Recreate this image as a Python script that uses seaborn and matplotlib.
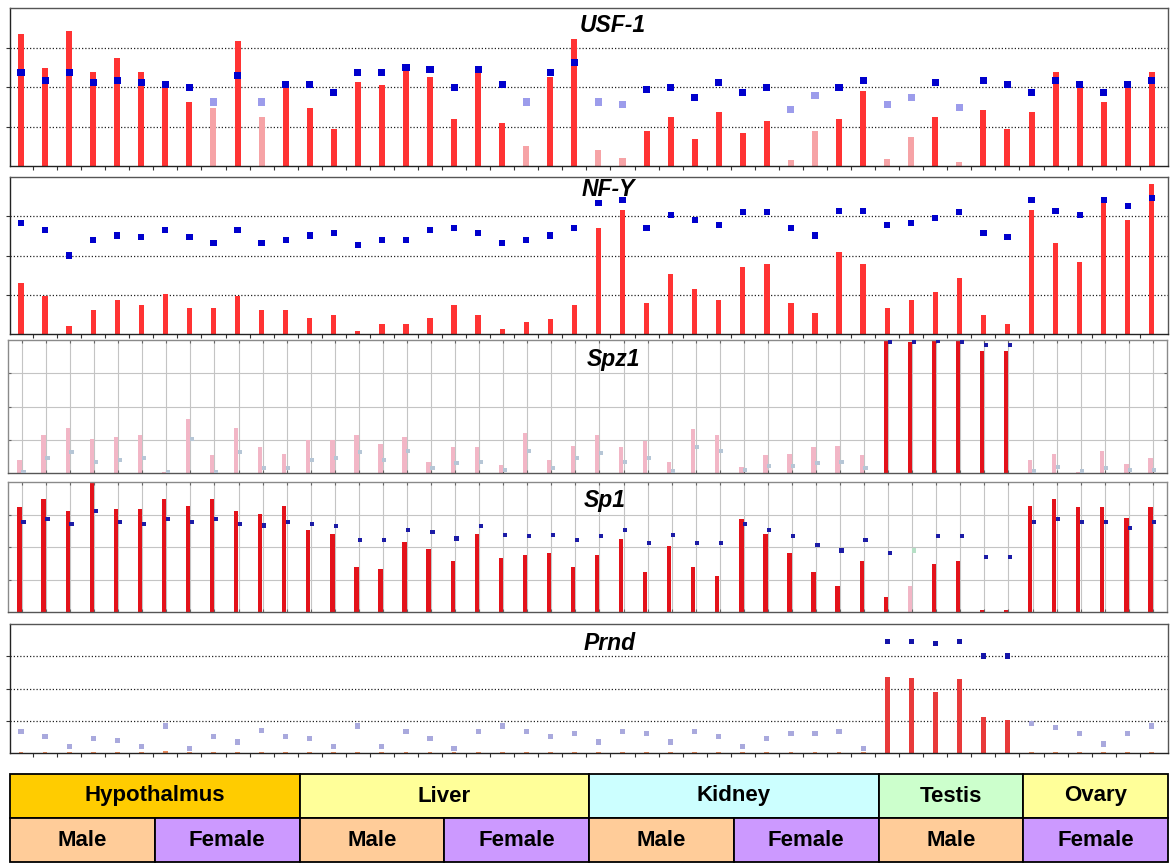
import matplotlib
matplotlib.use("Agg")
import matplotlib.pyplot as plt
from matplotlib.patches import Rectangle
import numpy as np
import pandas as pd
import seaborn as sns

# ---- sample layout: 48 samples grouped by tissue and sex ----
tissue_names = ["Hypothalmus", "Liver", "Kidney", "Testis", "Ovary"]
tissue_counts = [12, 12, 12, 6, 6]
tissue_colors = ["#ffcc00", "#ffff99", "#ccffff", "#ccffcc", "#ffff99"]
sex_names = ["Male", "Female", "Male", "Female", "Male", "Female", "Male", "Female"]
sex_counts = [6, 6, 6, 6, 6, 6, 6, 6]
sex_colors = {"Male": "#ffcc99", "Female": "#cc99ff"}

# ---- per-gene expression (bars), detection signal (squares), call P/A ----
usf1_expr = [3.34, 2.47, 3.42, 2.37, 2.73, 2.37, 2.04, 1.63, 1.46, 3.17, 1.25, 1.97,
             1.47, 0.94, 2.12, 2.04, 2.44, 2.26, 1.20, 2.52, 1.10, 0.50, 2.26, 3.22,
             0.40, 0.19, 0.88, 1.25, 0.68, 1.37, 0.84, 1.15, 0.14, 0.88, 1.20, 1.90,
             0.18, 0.73, 1.25, 0.09, 1.42, 0.93, 1.37, 2.37, 1.97, 1.63, 1.97, 2.37]
usf1_signal = [2.37, 2.17, 2.37, 2.12, 2.17, 2.12, 2.06, 1.98, 1.62, 2.30, 1.62, 2.06,
               2.06, 1.87, 2.37, 2.37, 2.49, 2.44, 1.98, 2.44, 2.06, 1.62, 2.37, 2.61,
               1.62, 1.55, 1.93, 1.98, 1.74, 2.12, 1.87, 1.98, 1.43, 1.79, 1.98, 2.17,
               1.55, 1.74, 2.12, 1.48, 2.17, 2.06, 1.87, 2.17, 2.06, 1.87, 2.06, 2.17]
usf1_call = "PPPPPP" "PPAPAP" "PPPPPP" "PPPAPP" "AAPPPP" "PPAAPP" "AAPAPP" "PPPPPP"

nfy_expr = [1.30, 0.96, 0.20, 0.62, 0.86, 0.74, 1.03, 0.67, 0.67, 0.96, 0.62, 0.62,
            0.42, 0.49, 0.08, 0.25, 0.25, 0.42, 0.74, 0.49, 0.13, 0.30, 0.37, 0.74,
            2.69, 3.15, 0.79, 1.54, 1.15, 0.86, 1.71, 1.79, 0.79, 0.54, 2.08, 1.79,
            0.67, 0.86, 1.08, 1.42, 0.49, 0.25, 3.15, 2.32, 1.83, 3.37, 2.91, 3.81]
nfy_signal = [2.83, 2.64, 2.00, 2.39, 2.51, 2.47, 2.64, 2.47, 2.32, 2.64, 2.32, 2.39,
              2.51, 2.58, 2.26, 2.39, 2.39, 2.64, 2.70, 2.58, 2.32, 2.39, 2.51, 2.70,
              3.34, 3.42, 2.70, 3.03, 2.91, 2.78, 3.10, 3.10, 2.70, 2.51, 3.14, 3.14,
              2.78, 2.83, 2.95, 3.10, 2.58, 2.47, 3.42, 3.14, 3.03, 3.42, 3.27, 3.47]
nfy_call = "PPPPPP" "PPPPPP" "PPPPPP" "PPPPPP" "PPPPPP" "PPPPPP" "PPPPPP" "PPPPPP"

spz1_expr = [0.39, 1.15, 1.35, 1.03, 1.07, 1.15, 0.02, 1.61, 0.53, 1.35, 0.78, 0.58,
             0.98, 0.98, 1.15, 0.88, 1.07, 0.32, 0.78, 0.78, 0.25, 1.20, 0.39, 0.80,
             1.15, 0.78, 0.97, 0.32, 1.33, 1.15, 0.19, 0.53, 0.58, 0.78, 0.80, 0.53,
             4.00, 3.93, 4.00, 4.00, 3.68, 3.68, 0.39, 0.58, 0.02, 0.65, 0.27, 0.44]
spz1_signal = [0.04, 0.46, 0.62, 0.33, 0.39, 0.46, 0.03, 1.03, 0.03, 0.62, 0.16, 0.14,
               0.39, 0.46, 0.62, 0.39, 0.67, 0.14, 0.30, 0.33, 0.09, 0.65, 0.16, 0.46,
               0.60, 0.33, 0.46, 0.06, 0.78, 0.65, 0.10, 0.22, 0.22, 0.29, 0.33, 0.14,
               3.93, 3.94, 3.98, 3.94, 3.85, 3.85, 0.06, 0.19, 0.06, 0.16, 0.09, 0.09]
spz1_call = "AAAAAA" "AAAAAA" "AAAAAA" "AAAAAA" "AAAAAA" "AAAAAA" "PPPPPP" "AAAAAA"

sp1_expr = [3.24, 3.49, 3.10, 4.00, 3.18, 3.18, 3.49, 3.27, 3.49, 3.10, 3.03, 3.25,
            2.52, 2.41, 1.38, 1.31, 2.14, 1.95, 1.58, 2.41, 1.67, 1.74, 1.82, 1.38,
            1.74, 2.26, 1.23, 2.02, 1.37, 1.10, 2.86, 2.41, 1.82, 1.23, 0.81, 1.58,
            0.47, 0.79, 1.49, 1.58, 0.07, 0.07, 3.27, 3.49, 3.24, 3.24, 2.90, 3.24]
sp1_signal = [2.77, 2.86, 2.70, 3.10, 2.77, 2.70, 2.86, 2.77, 2.86, 2.70, 2.66, 2.77,
              2.70, 2.65, 2.21, 2.21, 2.53, 2.46, 2.26, 2.65, 2.38, 2.33, 2.38, 2.21,
              2.33, 2.53, 2.12, 2.38, 2.12, 2.12, 2.70, 2.53, 2.33, 2.05, 1.89, 2.22,
              1.81, 1.89, 2.33, 2.33, 1.69, 1.69, 2.77, 2.86, 2.77, 2.77, 2.58, 2.77]
sp1_call = "PPPPPP" "PPPPPP" "PPPPPP" "PPPPPP" "PPPPPP" "PPPPPP" "PAPPPP" "PPPPPP"

prnd_expr = [0.03, 0.03, 0.03, 0.03, 0.03, 0.03, 0.05, 0.03, 0.03, 0.03, 0.04, 0.03,
             0.03, 0.03, 0.03, 0.03, 0.03, 0.03, 0.03, 0.03, 0.04, 0.03, 0.03, 0.03,
             0.03, 0.03, 0.03, 0.03, 0.03, 0.03, 0.04, 0.03, 0.03, 0.03, 0.04, 0.03,
             2.35, 2.33, 1.89, 2.28, 1.12, 1.02, 0.04, 0.04, 0.03, 0.03, 0.03, 0.04]
prnd_signal = [0.67, 0.52, 0.20, 0.46, 0.39, 0.20, 0.84, 0.14, 0.52, 0.34, 0.71, 0.52,
               0.46, 0.20, 0.84, 0.20, 0.67, 0.46, 0.14, 0.67, 0.84, 0.67, 0.52, 0.60,
               0.34, 0.67, 0.60, 0.34, 0.67, 0.52, 0.20, 0.46, 0.60, 0.60, 0.67, 0.14,
               3.45, 3.45, 3.40, 3.45, 3.01, 3.01, 0.92, 0.79, 0.60, 0.28, 0.60, 0.84]
prnd_call = "AAAAAA" "AAAAAA" "AAAAAA" "AAAAAA" "AAAAAA" "AAAAAA" "PPPPPP" "AAAAAA"

genes = ["USF-1", "NF-Y", "Spz1", "Sp1", "Prnd"]
expr = [usf1_expr, nfy_expr, spz1_expr, sp1_expr, prnd_expr]
signal = [usf1_signal, nfy_signal, spz1_signal, sp1_signal, prnd_signal]
calls = [usf1_call, nfy_call, spz1_call, sp1_call, prnd_call]

# ---- figure styling ----
sns.set_theme(style="white")
plt.rcParams["font.family"] = ["Liberation Sans", "DejaVu Sans"]

W, H = 1172, 864
fig = plt.figure(figsize=(W / 100, H / 100), dpi=100)
fig.patch.set_facecolor("white")


def px_axes(left, top, right, bottom):
    return fig.add_axes([left / W, 1 - bottom / H, (right - left) / W, (bottom - top) / H])


# panel frames in pixels (left, top, right, bottom), drawing style, title placement
panel_boxes = [(10, 8, 1168, 166), (10, 177, 1168, 334), (8, 340, 1167, 473),
               (8, 482, 1167, 612), (10, 624, 1168, 753)]
panel_kind = ["dotted", "dotted", "grid", "grid", "dotted"]
title_left_px = [580, 582, 587, 584, 584]
title_center_px = [25.5, 189, 359, 501, 643]

styles = {
    "USF-1": dict(bar={"P": "#ff3333", "A": "#f6a3a6"}, dot={"P": "#0000cc", "A": "#9c9ceb"},
                  width=0.25, size=26),
    "NF-Y": dict(bar={"P": "#ff3333", "A": "#f6a3a6"}, dot={"P": "#0000cc", "A": "#9c9ceb"},
                 width=0.22, size=20),
    "Spz1": dict(bar={"P": "#e3121a", "A": "#f2b6c6"}, dot={"P": "#1c1ca6", "A": "#b6c6d6"},
                 width=0.18, size=9),
    "Sp1": dict(bar={"P": "#e3121a", "A": "#f2b6c6"}, dot={"P": "#1c1ca6", "A": "#b6e0c6"},
                width=0.18, size=9),
    "Prnd": dict(bar={"P": "#e83a3a", "A": "#e98a5c"}, dot={"P": "#1414a8", "A": "#a9a9dd"},
                 width=0.2, size=14),
}

n = len(usf1_expr)
positions = np.arange(n)

for gene, box, kind, tl, tc, ex, sg, cl in zip(genes, panel_boxes, panel_kind, title_left_px,
                                              title_center_px, expr, signal, calls):
    left, top, right, bottom = box
    ax = px_axes(left, top, right, bottom)
    st = styles[gene]
    if kind == "grid":
        bar_shift, dot_shift = -0.1, 0.06
        first_px = 22
    else:
        bar_shift, dot_shift = 0.0, 0.0
        first_px = 21
    df = pd.DataFrame({
        "bar_x": positions + bar_shift,
        "dot_x": positions + dot_shift,
        "expr": ex,
        "signal": sg,
        "call": list(cl),
    })
    sns.barplot(data=df, x="bar_x", y="expr", hue="call", hue_order=["P", "A"],
                palette=st["bar"], native_scale=True, dodge=False, width=st["width"],
                errorbar=None, legend=False, saturation=1, linewidth=0, ax=ax, zorder=2)
    sns.scatterplot(data=df, x="dot_x", y="signal", hue="call", hue_order=["P", "A"],
                    palette=st["dot"], marker="s", s=st["size"], linewidth=0,
                    legend=False, ax=ax, zorder=3)

    # x scale: first sample at first_px, 24.06 px per sample
    step = 24.06
    x0 = -(first_px - left) / step
    x1 = x0 + (right - left) / step
    ax.set_xlim(x0, x1)
    ax.set_ylim(0, 4)
    ax.set_xlabel("")
    ax.set_ylabel("")
    ax.set_yticks([1, 2, 3])
    ax.set_yticklabels([])
    ax.set_facecolor("white")

    if kind == "dotted":
        ax.set_xticks(positions[:-1] + 0.5)
        ax.set_xticklabels([])
        ax.yaxis.grid(True, linestyle=(0, (1, 1.6)), color="#222222", linewidth=0.9)
        ax.xaxis.grid(False)
        ax.tick_params(axis="both", which="major", length=3, width=0.8, color="#333333",
                       direction="out", bottom=True, left=True)
        for side in ["left", "bottom"]:
            ax.spines[side].set_color("#222222")
            ax.spines[side].set_linewidth(1.0)
        for side in ["top", "right"]:
            ax.spines[side].set_color("#555555")
            ax.spines[side].set_linewidth(1.0)
    else:
        ax.set_xticks(positions)
        ax.set_xticklabels([])
        ax.grid(True, axis="both", linestyle="-", color="#c4c4c4", linewidth=0.8)
        ax.tick_params(axis="both", which="major", length=2.5, width=0.8, color="#666666",
                       direction="in", bottom=True, left=True, top=True, right=True)
        for side in ["left", "bottom", "top", "right"]:
            ax.spines[side].set_color("#8a8a8a")
            ax.spines[side].set_linewidth(1.0)
        ax.spines["bottom"].set_color("#555555")
    ax.set_axisbelow(True)

    ax.text((tl - left) / (right - left), 1 - (tc - top) / (bottom - top), gene,
            transform=ax.transAxes, ha="left", va="center", fontsize=16.5,
            fontweight="bold", fontstyle="italic", color="black", zorder=5)

# ---- tissue / sex annotation table ----
tax = px_axes(10, 774, 1168, 862)
tax.set_xlim(-0.5, n - 0.5)
tax.set_ylim(0, 2)
tax.axis("off")

start = -0.5
for name, cnt, col in zip(tissue_names, tissue_counts, tissue_colors):
    tax.add_patch(Rectangle((start, 1), cnt, 1, facecolor=col, edgecolor="black",
                            linewidth=1.3, clip_on=False))
    tax.text(start + cnt / 2, 1.5, name, ha="center", va="center", fontsize=16,
             fontweight="bold", color="black")
    start += cnt

start = -0.5
for name, cnt in zip(sex_names, sex_counts):
    tax.add_patch(Rectangle((start, 0), cnt, 1, facecolor=sex_colors[name],
                            edgecolor="black", linewidth=1.3, clip_on=False))
    tax.text(start + cnt / 2, 0.5, name, ha="center", va="center", fontsize=16,
             fontweight="bold", color="black")
    start += cnt

fig.savefig("out.png", dpi=100, facecolor="white")
